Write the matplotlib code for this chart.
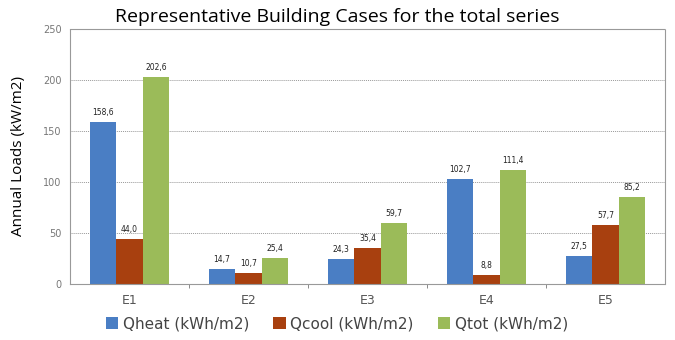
import numpy as np
import matplotlib.pyplot as plt

cases = ['E1', 'E2', 'E3', 'E4', 'E5']
qheat = [158.6, 14.7, 24.3, 102.7, 27.5]
qcool = [44.0, 10.7, 35.4, 8.8, 57.7]
qtot = [202.6, 25.4, 59.7, 111.4, 85.2]
series = ['Qheat (kWh/m2)', 'Qcool (kWh/m2)', 'Qtot (kWh/m2)']
colors = ['#4A7EC4', '#A8400F', '#9BBB59']

fig = plt.figure(figsize=(6.75, 3.4), dpi=100)
ax = fig.add_axes([70 / 675, 56 / 340, 595 / 675, 255 / 340])

x = np.arange(len(cases))
w = 0.222
for i, (vals, c, lab) in enumerate(zip([qheat, qcool, qtot], colors, series)):
    pos = x + (i - 1) * w
    ax.bar(pos, vals, width=w, color=c, label=lab, zorder=2)
    for p, v in zip(pos, vals):
        ax.text(p, v + 5, f'{v:.1f}'.replace('.', ','), ha='center', va='bottom',
                fontsize=5.5, color='#222222')

ax.set_xlim(-0.5, len(cases) - 0.5)
ax.set_ylim(0, 250)
ax.set_yticks(range(0, 251, 50))
ax.yaxis.grid(True, linestyle=(0, (1, 1)), color='#999999', linewidth=0.7, zorder=0)
ax.set_xticks(x)
ax.set_xticklabels(cases, fontsize=9, color='#555555')
ax.tick_params(axis='y', labelsize=7, colors='#777777', length=0, pad=6)
ax.tick_params(axis='x', length=0, pad=7)
ax.set_xticks(np.arange(0.5, len(cases) - 0.5), minor=True)
ax.tick_params(axis='x', which='minor', length=3, color='#777777')
for s in ax.spines.values():
    s.set_linestyle((0, (1, 1)))
    s.set_color('#999999')
    s.set_linewidth(0.8)

ax.set_ylabel('Annual Loads (kW/m2)', fontsize=11, family='Open Sans', labelpad=12)
fig.text(0.5, 0.95, 'Representative Building Cases for the total series', ha='center',
         va='center', fontsize=14, family='Open Sans')

fig.legend(loc='lower left', bbox_to_anchor=(92 / 675, -0.015), ncol=3, frameon=False,
           fontsize=11, handlelength=0.8, handleheight=0.8, handletextpad=0.3,
           columnspacing=1.6, labelcolor='#444444')

fig.savefig('out.png', dpi=100)
